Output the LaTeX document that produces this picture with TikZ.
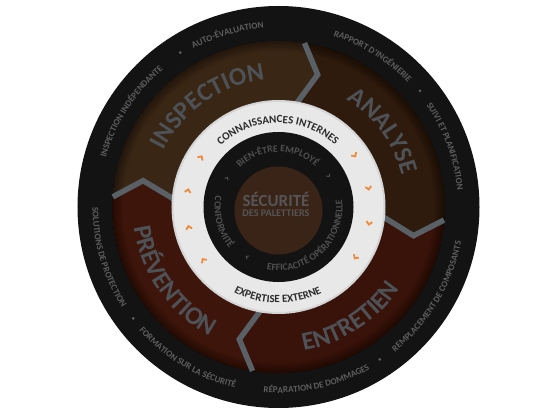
\documentclass[tikz,border=0pt]{standalone}
\usepackage{fontspec}
\setmainfont{Carlito}
\usetikzlibrary{decorations.text}

\definecolor{ringblack}{HTML}{131313}
\definecolor{inspcol}{HTML}{3A2615}
\definecolor{anacol}{HTML}{2F1B0D}
\definecolor{entcol}{HTML}{39120A}
\definecolor{prevcol}{HTML}{3E150B}
\definecolor{sepgray}{HTML}{596066}
\definecolor{bigcol}{HTML}{4D5257}
\definecolor{ringgray}{HTML}{5E5E5E}
\definecolor{whitering}{HTML}{E8E8E8}
\definecolor{darktext}{HTML}{2B2B2B}
\definecolor{innergray}{HTML}{505050}
\definecolor{coredisc}{HTML}{3A2417}
\definecolor{coretext}{HTML}{555555}
\definecolor{chevorange}{HTML}{F08A3A}

\newcommand{\bigfnt}{\fontsize{25.5}{26}\bfseries\selectfont}
\newcommand{\ringfnt}{\fontsize{9}{10}\bfseries\selectfont}
\newcommand{\whitefnt}{\fontsize{11}{12}\bfseries\selectfont}
\newcommand{\innerfnt}{\fontsize{9.8}{10}\bfseries\selectfont}

% text along an arc: radius, centre angle, half span, colour, text
\newcommand{\cwtext}[5]{\path[decorate,decoration={text along path,text align=center,text color=#4,text={#5}}] ({#2+#3}:#1) arc[start angle={#2+#3},end angle={#2-#3},radius=#1];}
\newcommand{\ccwtext}[5]{\path[decorate,decoration={text along path,text align=center,text color=#4,text={#5}}] ({#2-#3}:#1) arc[start angle={#2-#3},end angle={#2+#3},radius=#1];}

\tikzset{
  sepline/.style={line width=5.5pt, draw=sepgray, line join=miter},
  orangechev/.style={line width=1.8pt, draw=chevorange},
  innerchev/.style={line width=1pt, draw=innergray},
  ringdot/.style={fill=ringgray},
}

\begin{document}
\begin{tikzpicture}
\useasboundingbox (-278.5pt,-210pt) rectangle (277.5pt,207pt);

% outer black ring
\fill[ringblack] (0,0) circle[radius=201pt];

% four phases
\foreach \a/\b/\c in {81/176.5/inspcol, -4.5/81/anacol, -99/-4.5/entcol, -183.5/-99/prevcol}
  \fill[\c] (\a:166pt) arc[start angle=\a, end angle=\b, radius=166pt] -- ({\b-7.5}:138pt) -- (\b:107pt)
    arc[start angle=\b, end angle=\a, radius=107pt] -- ({\a-7.5}:138pt) -- cycle;
% darker rim of the phases
\begin{scope}
  \clip (0,0) circle[radius=166pt];
  \foreach \k in {1,...,8}
    \draw[black, opacity=0.05, line width=2.5*\k pt] (0,0) circle[radius=166pt];
\end{scope}
\foreach \b in {81,-4.5,-99,176.5}
  \draw[sepline] (\b:166pt) -- ({\b-7.5}:138pt) -- (\b:102pt);

% phase names
\cwtext{127.5pt}{125}{45}{bigcol}{|\bigfnt|INSPECTION}
\cwtext{127.5pt}{36}{40}{bigcol}{|\bigfnt|ANALYSE}
\ccwtext{146pt}{215}{45}{bigcol}{|\bigfnt|PRÉVENTION}
\ccwtext{146pt}{-57}{40}{bigcol}{|\bigfnt|ENTRETIEN}

% services on the outer ring
\cwtext{179.5pt}{147}{30}{ringgray}{|\ringfnt|INSPECTION INDÉPENDANTE}
\cwtext{179.5pt}{106.5}{25}{ringgray}{|\ringfnt|AUTO-ÉVALUATION}
\cwtext{179.5pt}{58}{25}{ringgray}{|\ringfnt|RAPPORT D'INGÉNIERIE}
\cwtext{179.5pt}{20}{25}{ringgray}{|\ringfnt|SUIVI ET PLANIFICATION}
\ccwtext{186pt}{-31}{30}{ringgray}{|\ringfnt|REMPLACEMENT DE COMPOSANTS}
\ccwtext{186pt}{-77.6}{25}{ringgray}{|\ringfnt|RÉPARATION DE DOMMAGES}
\ccwtext{186pt}{239}{30}{ringgray}{|\ringfnt|FORMATION SUR LA SÉCURITÉ}
\ccwtext{186pt}{196.4}{30}{ringgray}{|\ringfnt|SOLUTIONS DE PROTECTION}
\foreach \d in {122.5,39.4,-56.4,217.5}
  \fill[ringdot] (\d:183pt) circle[radius=1.5pt];

% white ring
\fill[whitering] (0,0) circle[radius=107pt];
\draw[black, opacity=0.08, line width=2pt] (0,0) circle[radius=106pt];
\cwtext{84pt}{90.5}{55}{darktext}{|\whitefnt|CONNAISSANCES INTERNES}
\ccwtext{96pt}{269.5}{45}{darktext}{|\whitefnt|EXPERTISE EXTERNE}
\foreach \o in {146.6,169,192,214.5,33.4,11,-11,-34}
  \draw[orangechev, rotate=\o] (89pt,3pt) -- (92pt,0pt) -- (95pt,3pt);

% inner black ring
\fill[ringblack] (0,0) circle[radius=75pt];
\cwtext{55pt}{91}{60}{innergray}{|\innerfnt|BIEN-ÊTRE EMPLOYÉ}
\ccwtext{64pt}{-47}{75}{innergray}{|\innerfnt|EFFICACITÉ OPÉRATIONNELLE}
\ccwtext{64pt}{195}{40}{innergray}{|\innerfnt|CONFORMITÉ}
\foreach \i in {150,31,237}
  \draw[innerchev, rotate=\i] (57pt,2pt) -- (59pt,0pt) -- (61pt,2pt);

% core
\fill[coredisc] (0pt,-3.5pt) circle[radius=44pt];
\node[text=coretext, font=\fontsize{17}{18}\bfseries\selectfont] (core) at (-2.5pt,7.5pt) {SÉCURITÉ};
\node[text=coretext, font=\fontsize{10.2}{11}\bfseries\selectfont, below=-4pt] (coresub) at (core.south) {DES PALETTIERS};
\end{tikzpicture}
\end{document}
